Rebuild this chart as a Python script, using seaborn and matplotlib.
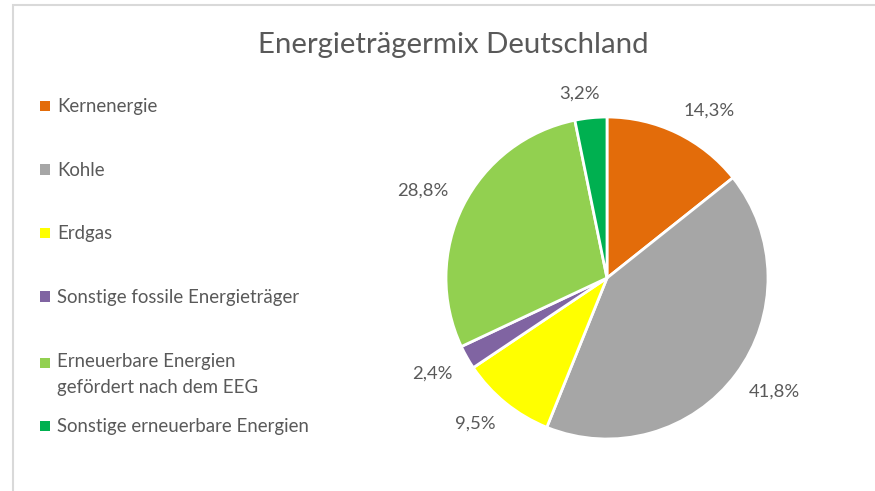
import matplotlib
matplotlib.use("Agg")
import numpy as np
import matplotlib.pyplot as plt
from matplotlib.patches import Patch, Rectangle
from matplotlib.legend_handler import HandlerPatch
import seaborn as sns

# Daten: Energieträgermix Deutschland (Anteile in %)
kategorien = [
    "Kernenergie",
    "Kohle",
    "Erdgas",
    "Sonstige fossile Energieträger",
    "Erneuerbare Energien\ngefördert nach dem EEG",
    "Sonstige erneuerbare Energien",
]
anteile = [14.3, 41.8, 9.5, 2.4, 28.8, 3.2]
farben = ["#E36C0A", "#A6A6A6", "#FFFF00", "#8064A2", "#92D050", "#00B050"]

sns.set_theme(style="white")
plt.rcParams["font.family"] = ["Lato", "DejaVu Sans"]
textfarbe = "#595959"

fig = plt.figure(figsize=(8.75, 4.91), dpi=100)
W, H = 875, 491

# Rahmen (nur oben/links sichtbar)
fig.patches.append(Rectangle((13 / W, -0.1), 1.2, 1.1 - 5 / H,
                             transform=fig.transFigure, fill=False,
                             edgecolor="#D9D9D9", linewidth=1.5))

# Kreisdiagramm
cx, cy, r = 607, 278, 161
ax = fig.add_axes([(cx - r) / W, (H - cy - r) / H, 2 * r / W, 2 * r / H])
beschriftung = [f"{a:.1f}%".replace(".", ",") for a in anteile]
wedges, texte = ax.pie(
    anteile,
    labels=beschriftung,
    colors=farben,
    startangle=90,
    counterclock=False,
    labeldistance=1.1,
    wedgeprops=dict(edgecolor="white", linewidth=2),
    textprops=dict(color=textfarbe, fontsize=13.3),
)
ax.set_xlim(-1, 1)
ax.set_ylim(-1, 1)

# Beschriftung wie "Außerhalb vom Ende" ausrichten
for t in texte:
    x, y = t.get_position()
    t.set_clip_on(False)
    if abs(x) < 0.25:
        t.set_ha("center")
        t.set_x(x - 0.06)
    t.set_va("bottom" if y > 0 else "top")

fig.suptitle("Energieträgermix Deutschland", x=453 / W, y=1 - 45 / H,
             va="center", fontsize=21.2, color=textfarbe)


# Marker des zweizeiligen Eintrags auf Höhe der ersten Zeile
def marker_oben(legend, orig_handle, xdescent, ydescent, width, height, fontsize):
    return Rectangle((-xdescent, -ydescent + 8.5), width, height)


# Legende (letzter Eintrag separat, enger gesetzt wie im Original)
handles = [Patch(facecolor=f, edgecolor="none") for f in farben]
stil = dict(frameon=False, fontsize=13.4, labelcolor=textfarbe,
            handlelength=0.5, handleheight=0.5, handletextpad=0.4,
            borderaxespad=0, loc="upper left")
leg1 = fig.legend(handles[:5], kategorien[:5],
                  bbox_to_anchor=(33 / W, 1 - 91 / H),
                  labelspacing=2.5,
                  handler_map={handles[4]: HandlerPatch(patch_func=marker_oben)},
                  **stil)
for t in leg1.get_texts():
    t.set_linespacing(1.7)
leg2 = fig.legend(handles[5:], kategorien[5:],
                  bbox_to_anchor=(33 / W, 1 - 411 / H), **stil)

fig.savefig("out.png", dpi=100, facecolor="white")
